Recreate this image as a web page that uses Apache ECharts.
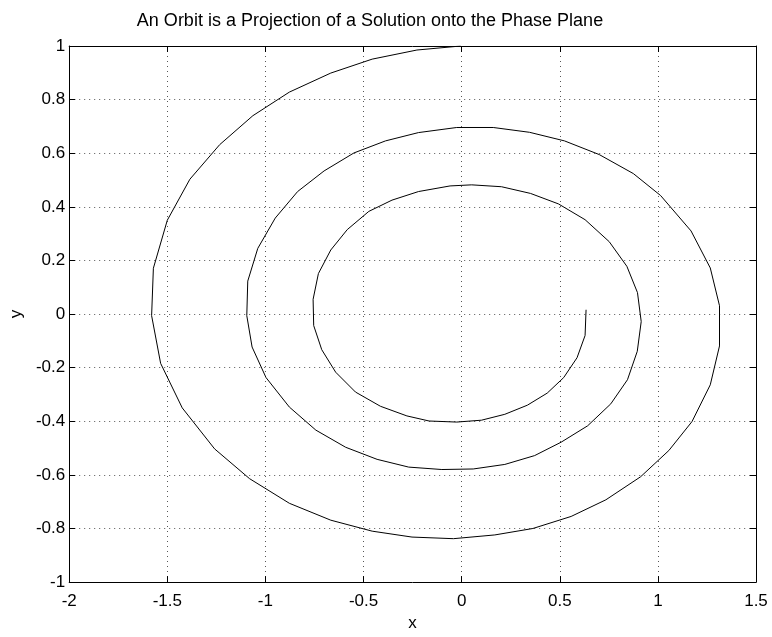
<!DOCTYPE html>
<html>
<head>
<meta charset="utf-8">
<script src="https://cdn.jsdelivr.net/npm/echarts@6/dist/echarts.min.js"></script>
<style>
html,body{margin:0;padding:0;background:#fff;}
#main{width:772px;height:637px;}
</style>
</head>
<body>
<div id="main"></div>
<script>
const titleText = 'An Orbit is a Projection of a Solution onto the Phase Plane';
const xName = 'x';
const yName = 'y';
const xTicks = [-2, -1.5, -1, -0.5, 0, 0.5, 1, 1.5];
const yTicks = [-1, -0.8, -0.6, -0.4, -0.2, 0, 0.2, 0.4, 0.6, 0.8, 1];

// orbit vertices (x, y)
const orbitX = [
  -0.005, -0.228, -0.456, -0.667, -0.878, -1.064, -1.233, -1.385, -1.500, -1.571,
  -1.580, -1.534, -1.424, -1.259, -1.081, -0.878, -0.667, -0.456, -0.253, -0.042,
   0.169,  0.363,  0.558,  0.735,  0.912,  1.056,  1.174,  1.267,  1.314,  1.314,
   1.267,  1.169,  1.014,  0.875,  0.701,  0.524,  0.346,  0.161, -0.025, -0.220,
  -0.388, -0.549, -0.701, -0.836, -0.950, -1.039, -1.090, -1.095, -1.068, -0.997,
  -0.878, -0.743, -0.591, -0.431, -0.270, -0.101,  0.059,  0.220,  0.372,  0.507,
   0.642,  0.760,  0.845,  0.895,  0.915,  0.896,  0.842,  0.752,  0.629,  0.493,
   0.351,  0.203,  0.051, -0.059, -0.220, -0.355, -0.473, -0.583, -0.667, -0.730,
  -0.757, -0.754, -0.713, -0.642, -0.541, -0.414, -0.279, -0.166, -0.025,  0.101,
   0.220,  0.335,  0.436,  0.520,  0.588,  0.629,  0.634
];
const orbitY = [
   1.000,  0.985,  0.951,  0.899,  0.828,  0.740,  0.632,  0.503,  0.350,  0.171,
  -0.006, -0.184, -0.350, -0.503, -0.614, -0.706, -0.769, -0.810, -0.832, -0.838,
  -0.824, -0.800, -0.755, -0.693, -0.607, -0.509, -0.401, -0.264, -0.119,  0.031,
   0.172,  0.310,  0.442,  0.524,  0.595,  0.646,  0.678,  0.696,  0.696,  0.677,
   0.646,  0.601,  0.534,  0.457,  0.358,  0.245,  0.123, -0.006, -0.123, -0.237,
  -0.347, -0.433, -0.497, -0.542, -0.571, -0.580, -0.578, -0.561, -0.528, -0.478,
  -0.417, -0.335, -0.245, -0.139, -0.028,  0.080,  0.178,  0.270,  0.352,  0.411,
   0.450,  0.475,  0.482,  0.478,  0.457,  0.425,  0.383,  0.315,  0.239,  0.151,
   0.055, -0.043, -0.133, -0.217, -0.291, -0.344, -0.380, -0.399, -0.403, -0.396,
  -0.374, -0.340, -0.295, -0.237, -0.163, -0.080,  0.016
];

const data = orbitX.map((x, i) => [x, orbitY[i]]);
const FONT = 'Liberation Sans, Arial, Helvetica, sans-serif';
const fmt = v => String(+v.toFixed(2));

function xAxisDef(pos, main) {
  return {
    type: 'value', position: pos,
    min: xTicks[0], max: xTicks[xTicks.length - 1], interval: 0.5,
    name: main ? xName : '', nameLocation: 'middle', nameGap: 30,
    nameTextStyle: {color: '#000', fontSize: 17, fontFamily: FONT},
    axisLine: {show: true, onZero: false, lineStyle: {color: '#000', width: 1}},
    axisTick: {show: true, inside: true, length: 6, lineStyle: {color: '#000'}},
    axisLabel: {show: main, color: '#000', fontSize: 17, fontFamily: FONT, margin: 11, formatter: fmt},
    splitLine: {show: main, lineStyle: {color: '#555', type: [1, 4], width: 1}}
  };
}
function yAxisDef(pos, main) {
  return {
    type: 'value', position: pos,
    min: yTicks[0], max: yTicks[yTicks.length - 1], interval: 0.2,
    name: main ? yName : '', nameLocation: 'middle', nameGap: 37, nameRotate: 90,
    nameTextStyle: {color: '#000', fontSize: 17, fontFamily: FONT},
    axisLine: {show: true, onZero: false, lineStyle: {color: '#000', width: 1}},
    axisTick: {show: true, inside: true, length: 6, lineStyle: {color: '#000'}},
    axisLabel: {show: main, color: '#000', fontSize: 17, fontFamily: FONT, margin: 4, formatter: fmt},
    splitLine: {show: main, lineStyle: {color: '#555', type: [1, 4], width: 1}}
  };
}

const chart = echarts.init(document.getElementById('main'), null, {renderer: 'canvas'});
chart.setOption({
  animation: false,
  backgroundColor: '#fff',
  title: {
    text: titleText, left: 365, top: 7, textAlign: 'center',
    textStyle: {color: '#000', fontSize: 18, fontWeight: 'normal', fontFamily: FONT}
  },
  grid: {left: 65, top: 46, width: 691, height: 544, containLabel: false},
  xAxis: [xAxisDef('bottom', true), xAxisDef('top', false)],
  yAxis: [yAxisDef('left', true), yAxisDef('right', false)],
  series: [{
    type: 'line', data: data, xAxisIndex: 0, yAxisIndex: 0,
    showSymbol: false, smooth: false,
    lineStyle: {color: '#000', width: 1}
  }]
});
</script>
</body>
</html>
